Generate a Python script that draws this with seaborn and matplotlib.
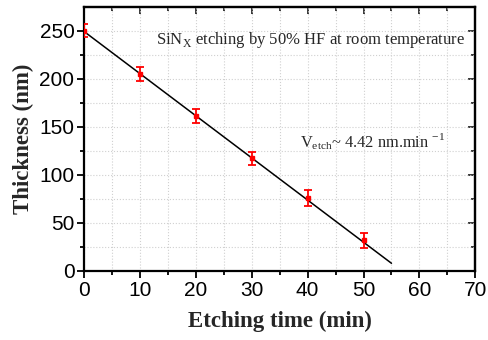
import numpy as np
import pandas as pd
import matplotlib.pyplot as plt
import seaborn as sns
from matplotlib.ticker import MultipleLocator, NullFormatter

# measured thickness vs etching time
etch_time = [0, 10, 20, 30, 40, 50]
thickness = [250, 205, 161, 117, 76, 32]
thickness_err = [7, 7, 7, 7, 8, 8]

# linear fit line (endpoints)
fit_time = [0, 55]
fit_thickness = [249, 8]

sns.set_style("ticks")
plt.rcParams['font.family'] = ['Liberation Sans', 'DejaVu Sans']

fig, ax = plt.subplots(figsize=(4.89, 3.40), dpi=100)

sns.lineplot(x=fit_time, y=fit_thickness, color="black", linewidth=1.1, ax=ax)
ax.errorbar(etch_time, thickness, yerr=thickness_err, fmt='s', color="red",
            markersize=3, capsize=3, elinewidth=1.3, capthick=1.3, zorder=3)

ax.set_xlim(0, 70)
ax.set_ylim(0, 274)
ax.xaxis.set_major_locator(MultipleLocator(10))
ax.xaxis.set_minor_locator(MultipleLocator(5))
ax.yaxis.set_major_locator(MultipleLocator(50))
ax.yaxis.set_minor_locator(MultipleLocator(25))
ax.grid(which="both", linestyle=":", color="#d0d0d0", linewidth=0.8)
ax.set_axisbelow(True)

for s in ax.spines.values():
    s.set_visible(True)
    s.set_linewidth(1.6)
    s.set_color("black")

ax.tick_params(which="both", direction="out", width=1.3, labelsize=15, colors="black", pad=2)
ax.tick_params(which="major", length=5)
ax.tick_params(which="minor", length=3)

# inward ticks on top and right
top = ax.secondary_xaxis("top")
top.xaxis.set_major_locator(MultipleLocator(10))
top.xaxis.set_minor_locator(MultipleLocator(5))
top.xaxis.set_major_formatter(NullFormatter())
top.tick_params(which="both", direction="in", width=1.3)
top.tick_params(which="major", length=5)
top.tick_params(which="minor", length=3)
right = ax.secondary_yaxis("right")
right.yaxis.set_major_locator(MultipleLocator(50))
right.yaxis.set_minor_locator(MultipleLocator(25))
right.yaxis.set_major_formatter(NullFormatter())
right.tick_params(which="both", direction="in", width=1.3)
right.tick_params(which="major", length=5)
right.tick_params(which="minor", length=3)
for sa in (top, right):
    for s in sa.spines.values():
        s.set_linewidth(1.6)

serif = ['Liberation Serif', 'DejaVu Serif']
ax.set_xlabel("Etching time (min)", family=serif, fontweight="bold", fontsize=16.5, labelpad=8)
ax.set_ylabel("Thickness (nm)", family=serif, fontweight="bold", fontsize=16.5, labelpad=4)

ax.text(0.975, 0.84, r"SiN$_\mathregular{X}$ etching by 50% HF at room temperature",
        transform=ax.transAxes, ha="right", va="bottom", family=serif, fontsize=12)
ax.text(0.925, 0.45, r"V$_\mathregular{etch}$~ 4.42 nm.min $^\mathregular{-1}$",
        transform=ax.transAxes, ha="right", va="bottom", family=serif, fontsize=11.8)

fig.subplots_adjust(left=0.172, right=0.972, top=0.978, bottom=0.203)
fig.savefig("out.png", dpi=100)
